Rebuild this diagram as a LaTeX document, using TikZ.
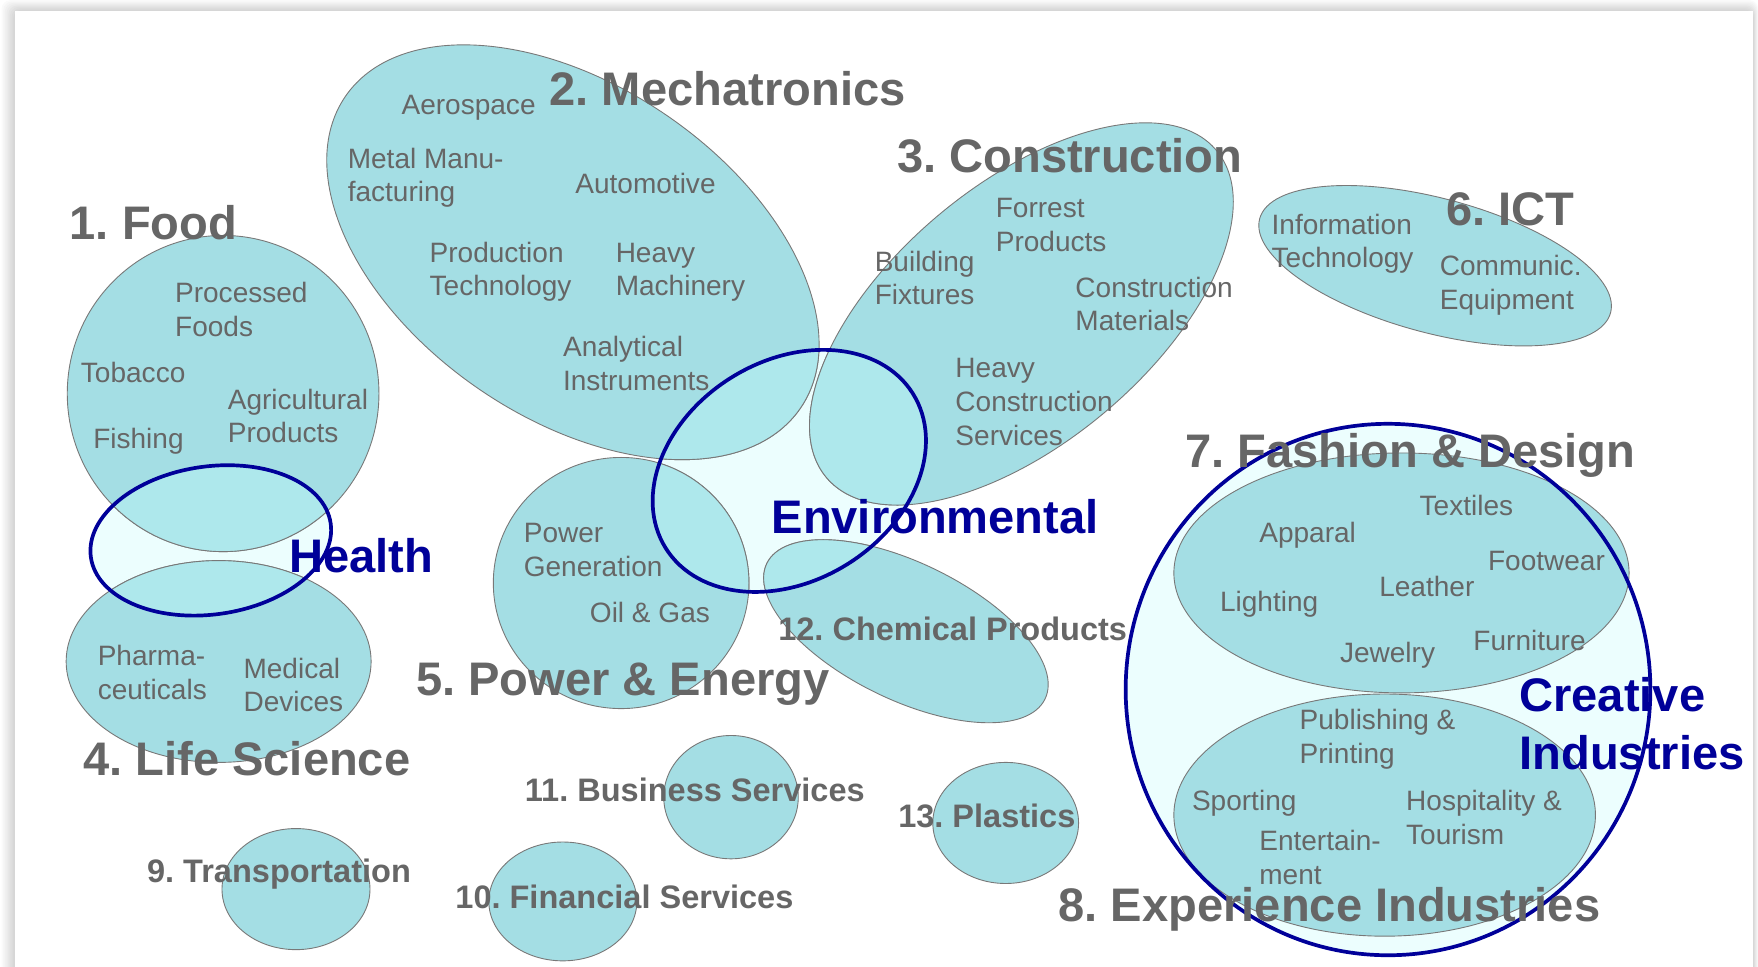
\documentclass[tikz,border=0pt]{standalone}
\usepackage{fontspec}
\setmainfont{Liberation Sans}
\definecolor{tealf}{RGB}{164,222,228}
\definecolor{tealL}{RGB}{174,232,236}
\definecolor{lcyan}{RGB}{236,254,254}
\definecolor{olc}{RGB}{120,120,120}
\definecolor{bl}{RGB}{0,0,153}
\definecolor{tx}{RGB}{102,102,102}
\newcommand\ml[1]{\begin{tabular}[t]{@{}l@{}}#1\end{tabular}}
\frenchspacing
\begin{document}
\begin{tikzpicture}[x=1pt,y=-1pt,
  sm/.style={anchor=base west,inner sep=0pt,text=tx,font=\frenchspacing\fontsize{25}{30}\selectfont},
  mid/.style={anchor=base west,inner sep=0pt,text=tx,font=\frenchspacing\fontsize{29}{35}\selectfont\bfseries},
  big/.style={anchor=base west,inner sep=0pt,text=tx,font=\frenchspacing\fontsize{42}{51}\selectfont\bfseries},
  bigb/.style={big,text=bl},
  tshape/.style={fill=tealf,draw=olc,line width=0.8pt},
  lshape/.style={fill=tealL,draw=olc,line width=0.8pt},
  blue/.style={draw=bl,line width=3.3pt}]
\useasboundingbox (0,0) rectangle (1568,862);
% page and shadow
\fill[white] (0,0) rectangle (1568,862);
\foreach \k/\c in {1/2,2/4,3/6,4/8,5/10,6/12,7/14,8/16}{
  \fill[black!\c,rounded corners=8pt] ({13.4-(9-\k)*1.5},{9.8-(9-\k)*1.2}) rectangle ({1563.5+(9-\k)*0.6},900);}
\fill[white] (13.4,9.8) rectangle (1563.5,900);
\def\teallist{199/351/139/141/0, 195/590/136/90/0, 511/225/246/148/-34.4, 911/280/227/115/40, 1280/237/162/60/-15, 554/520/114/112/0, 808/563/138/61/-26, 264/793/66/54/0, 502/804/66/53/0, 652/711/60/55/0, 897/734/65/54/0}
% light fills of the blue groups
\fill[lcyan,rotate around={8:(188,482)}] (188,482) ellipse [x radius=108, y radius=66];
\fill[lcyan,rotate around={32:(704,420)}] (704,420) ellipse [x radius=130, y radius=98];
\fill[lcyan] (1238,615) ellipse [x radius=234, y radius=237];
% teal clusters
\foreach \cx/\cy/\a/\b/\r in \teallist {
  \path[tshape,rotate around={\r:(\cx,\cy)}] (\cx,\cy) ellipse [x radius=\a, y radius=\b];}
\path[tshape] (1250,511) ellipse [x radius=203, y radius=107];
\path[tshape] (1235,727) ellipse [x radius=188, y radius=108];
% lighter overlaps
\begin{scope}
  \clip[rotate around={8:(188,482)}] (188,482) ellipse [x radius=108, y radius=66];
  \foreach \cx/\cy/\a/\b/\r in \teallist {
    \path[lshape,rotate around={\r:(\cx,\cy)}] (\cx,\cy) ellipse [x radius=\a, y radius=\b];}
\end{scope}
\begin{scope}
  \clip[rotate around={32:(704,420)}] (704,420) ellipse [x radius=130, y radius=98];
  \foreach \cx/\cy/\a/\b/\r in \teallist {
    \path[lshape,rotate around={\r:(\cx,\cy)}] (\cx,\cy) ellipse [x radius=\a, y radius=\b];}
\end{scope}
% blue outlines
\path[blue,rotate around={8:(188,482)}] (188,482) ellipse [x radius=108, y radius=66];
\path[blue,rotate around={32:(704,420)}] (704,420) ellipse [x radius=130, y radius=98];
\path[blue] (1238,615) ellipse [x radius=234, y radius=237];
% texts
\node[big] (food) at (62,214) {1. Food};
\node[sm] (pf) at (156,270) {\ml{Processed\\Foods}};
\node[sm] (tob) at (72,341) {Tobacco};
\node[sm] (agr) at (203,365) {\ml{Agricultural\\Products}};
\node[sm] (fish) at (83,400) {Fishing};
\node[bigb] (health) at (258,511) {Health};
\node[sm] (pharma) at (87,594) {\ml{Pharma-\\ceuticals}};
\node[sm] (med) at (217,605) {\ml{Medical\\Devices}};
\node[big] (life) at (74,692) {4. Life Science};
\node[sm] (aero) at (358,102) {Aerospace};
\node[big] (mech) at (490,94) {2. Mechatronics};
\node[sm] (metal) at (310,150) {\ml{Metal Manu-\\facturing}};
\node[sm] (auto) at (513,173) {Automotive};
\node[sm] (prod) at (383,234) {\ml{Production\\Technology}};
\node[sm] (heavy) at (549,234) {\ml{Heavy\\Machinery}};
\node[sm] (anal) at (502,318) {\ml{Analytical\\Instruments}};
\node[big] (cons) at (800,154) {3. Construction};
\node[sm] (forr) at (888,194) {\ml{Forrest\\Products}};
\node[sm] (build) at (780,242) {\ml{Building\\Fixtures}};
\node[sm] (cmat) at (959,265) {\ml{Construction\\Materials}};
\node[sm] (hcs) at (852,337) {\ml{Heavy\\Construction\\Services}};
\node[big] (ict) at (1290,201) {6. ICT};
\node[sm] (info) at (1134,209) {\ml{Information\\Technology}};
\node[sm] (comm) at (1284,246) {\ml{Communic.\\Equipment}};
\node[bigb] (env) at (688,476) {Environmental};
\node[sm] (pgen) at (467,484) {\ml{Power\\Generation}};
\node[sm] (oil) at (526,555) {Oil \& Gas};
\node[big] (pe) at (371,620) {5. Power \& Energy};
\node[mid] (chem) at (694,571) {12. Chemical Products};
\node[big] (fd) at (1057,417) {7. Fashion \& Design};
\node[sm] (textiles) at (1266,460) {Textiles};
\node[sm] (apparal) at (1123,484) {Apparal};
\node[sm] (footwear) at (1327,509) {Footwear};
\node[sm] (leather) at (1230,532) {Leather};
\node[sm] (lighting) at (1088,545) {Lighting};
\node[sm] (furniture) at (1314,580) {Furniture};
\node[sm] (jewelry) at (1195,591) {Jewelry};
\node[bigb] (creative) at (1355,635) {\ml{Creative\\Industries}};
\node[sm] (pub) at (1159,651) {\ml{Publishing \&\\Printing}};
\node[sm] (sport) at (1063,723) {Sporting};
\node[sm] (hosp) at (1254,723) {\ml{Hospitality \&\\Tourism}};
\node[sm] (ent) at (1123,759) {\ml{Entertain-\\ment}};
\node[big] (exp) at (944,822) {8. Experience Industries};
\node[mid] (bus) at (468,715) {11. Business Services};
\node[mid] (plast) at (801,738) {13. Plastics};
\node[mid] (trans) at (131,787) {9. Transportation};
\node[mid] (fin) at (406,810) {10. Financial Services};
\end{tikzpicture}
\end{document}
